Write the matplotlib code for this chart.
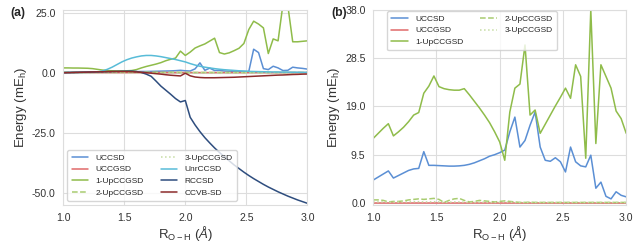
import numpy as np
import matplotlib
matplotlib.use('Agg')
import matplotlib.pyplot as plt
import seaborn as sns

sns.set_style('whitegrid')
plt.rcParams['font.family'] = ['Liberation Sans', 'DejaVu Sans']
plt.rcParams['mathtext.fontset'] = 'custom'
plt.rcParams['mathtext.rm'] = 'Liberation Sans'
plt.rcParams['mathtext.it'] = 'Liberation Sans:italic'

# bond length grid (Angstrom)
r = np.linspace(1.0, 3.0, 51)

# panel (a): energy relative to reference (mEh)
a_uccsd = [0.1, 0.1, 0.15, 0.15, 0.2, 0.2, 0.25, 0.25, 0.3, 0.3,
           0.35, 0.35, 0.4, 0.4, 0.45, 0.45, 0.5, 0.5, 0.55, 0.6,
           0.65, 0.7, 0.75, 0.85, 1.0, 0.8, 0.7, 1.6, 4.1, 1.0,
           1.9, 0.9, 1.0, 0.7, 0.6, 0.6, 0.5, 0.5, 0.5, 9.8,
           8.4, 1.7, 1.3, 2.7, 2.0, 0.9, 1.0, 2.3, 2.0, 1.8, 1.5]
a_uccgsd = [0.0, 0.0, 0.0, 0.05, 0.05, 0.05, 0.05, 0.05, 0.05, 0.05,
            0.05, 0.05, 0.05, 0.05, 0.05, 0.05, 0.05, 0.05, 0.05, 0.05,
            0.05, 0.05, 0.05, 0.05, 0.05, 0.05, 0.05, 0.05, 0.05, 0.05,
            0.05, 0.05, 0.05, 0.05, 0.05, 0.05, 0.05, 0.05, 0.05, 0.05,
            0.05, 0.05, 0.05, 0.05, 0.05, 0.05, 0.05, 0.05, 0.05, 0.05, 0.05]
a_up1 = [2.0, 2.0, 1.95, 1.95, 1.9, 1.85, 1.7, 1.4, 1.1, 0.9,
         0.8, 0.75, 0.75, 0.8, 0.9, 1.3, 2.0, 2.6, 3.1, 3.6,
         4.2, 5.0, 5.6, 6.1, 9.0, 7.2, 8.6, 10.3, 11.2, 12.0,
         13.2, 14.4, 8.4, 7.8, 8.3, 9.2, 10.2, 12.2, 18.0, 21.5,
         20.3, 18.7, 8.0, 14.1, 13.3, 28.5, 28.0, 12.9, 12.9, 13.1, 13.3]
a_up2 = [0.2, 0.2, 0.15, 0.1, 0.1, 0.15, 0.2, 0.25, 0.3, 0.3,
         0.3, 0.3, 0.25, 0.2, 0.2, 0.2, 0.25, 0.25, 0.2, 0.2,
         0.15, 0.15, 0.2, 0.2, 0.15, 0.1, 0.1, 0.1, 0.1, 0.1,
         0.1, 0.1, 0.1, 0.1, 0.1, 0.1, 0.1, 0.1, 0.1, 0.1,
         0.1, 0.1, 0.1, 0.1, 0.1, 0.1, 0.1, 0.1, 0.1, 0.1, 0.1]
a_up3 = [0.05, 0.05, 0.05, 0.05, 0.05, 0.05, 0.05, 0.05, 0.05, 0.05,
         0.05, 0.05, 0.05, 0.05, 0.05, 0.05, 0.05, 0.05, 0.05, 0.05,
         0.05, 0.05, 0.05, 0.05, 0.05, 0.05, 0.05, 0.05, 0.05, 0.05,
         0.05, 0.05, 0.05, 0.05, 0.05, 0.05, 0.05, 0.05, 0.05, 0.05,
         0.05, 0.05, 0.05, 0.05, 0.05, 0.05, 0.05, 0.05, 0.05, 0.05, 0.05]
a_unr = [0.1, 0.1, 0.1, 0.1, 0.1, 0.15, 0.15, 0.3, 0.7, 1.4,
         2.3, 3.4, 4.5, 5.4, 6.1, 6.6, 7.0, 7.2, 7.2, 7.0,
         6.7, 6.3, 5.9, 5.5, 5.0, 4.5, 3.8, 3.2, 2.7, 2.3,
         2.0, 1.7, 1.45, 1.25, 1.1, 0.95, 0.8, 0.7, 0.55, 0.5,
         0.45, 0.4, 0.35, 0.3, 0.3, 0.25, 0.25, 0.2, 0.2, 0.15, 0.15]
a_rccsd = [0.0, 0.05, 0.1, 0.15, 0.2, 0.25, 0.3, 0.35, 0.4, 0.45,
           0.5, 0.55, 0.6, 0.65, 0.7, 0.5, 0.1, -0.6, -1.5, -3.5,
           -5.6, -7.3, -9.0, -10.8, -12.2, -11.6, -18.6, -21.8, -24.6, -27.1,
           -29.3, -31.4, -33.3, -35.1, -36.8, -38.5, -40.0, -41.5, -42.9, -44.2,
           -45.4, -46.6, -47.7, -48.7, -49.7, -50.6, -51.5, -52.3, -53.1, -53.8, -54.5]
a_ccvb = [0.0, 0.05, 0.1, 0.15, 0.2, 0.25, 0.3, 0.35, 0.4, 0.45,
          0.5, 0.5, 0.5, 0.45, 0.4, 0.3, 0.15, 0.0, -0.2, -0.4,
          -0.6, -0.85, -1.05, -1.2, -1.35, -0.2, -1.3, -1.8, -2.0, -2.1,
          -2.1, -2.1, -2.05, -2.0, -1.95, -1.9, -1.8, -1.7, -1.6, -1.5,
          -1.4, -1.3, -1.2, -1.1, -1.0, -0.95, -0.85, -0.75, -0.7, -0.6, -0.55]

# panel (b)
b_uccsd = [4.5, 5.1, 5.7, 6.3, 4.9, 5.4, 5.9, 6.4, 6.7, 6.8,
           10.1, 7.4, 7.4, 7.35, 7.3, 7.25, 7.25, 7.3, 7.4, 7.6,
           7.9, 8.3, 8.7, 9.2, 9.5, 9.9, 10.4, 14.0, 16.9, 11.0,
           12.3, 15.3, 17.9, 11.0, 8.4, 8.2, 8.9, 8.1, 6.1, 11.0,
           8.1, 7.3, 7.1, 9.4, 2.9, 4.1, 1.3, 0.8, 2.2, 1.5, 1.2]
b_uccgsd = [0.05, 0.05, 0.05, 0.05, 0.05, 0.05, 0.05, 0.05, 0.05, 0.05,
            0.05, 0.05, 0.05, 0.05, 0.05, 0.05, 0.05, 0.05, 0.05, 0.05,
            0.05, 0.05, 0.05, 0.05, 0.05, 0.05, 0.05, 0.05, 0.05, 0.05,
            0.05, 0.05, 0.05, 0.05, 0.05, 0.05, 0.05, 0.05, 0.05, 0.05,
            0.05, 0.05, 0.05, 0.05, 0.05, 0.05, 0.05, 0.05, 0.05, 0.05, 0.05]
b_up1 = [12.7, 13.7, 14.7, 15.6, 13.2, 14.0, 14.9, 16.0, 17.3, 17.8,
         21.6, 23.0, 25.0, 22.9, 22.5, 22.3, 22.2, 22.2, 22.5, 21.3,
         20.0, 18.7, 17.3, 15.8, 14.0, 12.0, 8.4, 17.9, 22.6, 23.4,
         31.1, 17.3, 18.3, 13.7, 15.5, 17.3, 19.1, 20.8, 22.6, 20.6,
         27.2, 24.9, 8.8, 38.0, 11.7, 27.2, 24.9, 22.6, 18.1, 16.6, 13.7]
b_up2 = [0.6, 0.6, 0.5, 0.2, 0.3, 0.3, 0.4, 0.6, 0.7, 0.8,
         0.7, 0.8, 0.9, 0.7, 0.1, 0.5, 0.8, 0.9, 0.5, 0.2,
         0.3, 0.5, 0.4, 0.3, 0.2, 0.3, 0.4, 0.3, 0.2, 0.1,
         0.1, 0.15, 0.1, 0.1, 0.1, 0.1, 0.1, 0.1, 0.1, 0.1,
         0.1, 0.1, 0.1, 0.1, 0.1, 0.1, 0.1, 0.1, 0.1, 0.1, 0.1]
b_up3 = [0.2, 0.2, 0.2, 0.15, 0.15, 0.15, 0.2, 0.2, 0.25, 0.25,
         0.2, 0.2, 0.25, 0.2, 0.1, 0.15, 0.2, 0.2, 0.15, 0.1,
         0.1, 0.15, 0.15, 0.1, 0.1, 0.15, 0.2, 0.15, 0.1, 0.1,
         0.1, 0.1, 0.1, 0.1, 0.1, 0.1, 0.1, 0.1, 0.1, 0.1,
         0.1, 0.1, 0.1, 0.1, 0.1, 0.1, 0.1, 0.1, 0.1, 0.1, 0.1]

c_uccsd = '#5b8fd4'
c_uccgsd = '#e06a6a'
c_up1 = '#8fbc4a'
c_up2 = '#a8cc70'
c_up3 = '#c6dca4'
c_unr = '#58bcd8'
c_rcc = '#2e4d7e'
c_ccvb = '#8c2b2b'

fig = plt.figure(figsize=(6.39, 2.42), dpi=100)
ax1 = fig.add_axes([0.099, 0.153, 0.382, 0.806])
ax2 = fig.add_axes([0.584, 0.153, 0.396, 0.806])

lw = 1.1
ax1.plot(r, a_uccsd, color=c_uccsd, lw=lw, label='UCCSD')
ax1.plot(r, a_uccgsd, color=c_uccgsd, lw=lw, label='UCCGSD')
ax1.plot(r, a_up1, color=c_up1, lw=lw, label='1-UpCCGSD')
ax1.plot(r, a_up2, color=c_up2, lw=lw, ls='--', label='2-UpCCGSD')
ax1.plot(r, a_up3, color=c_up3, lw=lw, ls=':', label='3-UpCCGSD')
ax1.plot(r, a_unr, color=c_unr, lw=lw, label='UnrCCSD')
ax1.plot(r, a_rccsd, color=c_rcc, lw=lw, label='RCCSD')
ax1.plot(r, a_ccvb, color=c_ccvb, lw=lw, label='CCVB-SD')

ax2.plot(r, b_uccsd, color=c_uccsd, lw=lw, label='UCCSD')
ax2.plot(r, b_uccgsd, color=c_uccgsd, lw=lw, label='UCCGSD')
ax2.plot(r, b_up1, color=c_up1, lw=lw, label='1-UpCCGSD')
ax2.plot(r, b_up2, color=c_up2, lw=lw, ls='--', label='2-UpCCGSD')
ax2.plot(r, b_up3, color=c_up3, lw=lw, ls=':', label='3-UpCCGSD')

ax1.set_xlim(1.0, 3.0)
ax1.set_ylim(-55.2, 26.2)
ax1.set_yticks([-50, -25, 0, 25])
ax2.set_xlim(1.0, 3.0)
ax2.set_ylim(-0.4, 38.0)
ax2.set_yticks([0, 9.5, 19, 28.5, 38])

for ax in (ax1, ax2):
    ax.set_xticks([1.0, 1.5, 2.0, 2.5, 3.0])
    ax.xaxis.set_major_formatter(matplotlib.ticker.FormatStrFormatter('%.1f'))
    ax.yaxis.set_major_formatter(matplotlib.ticker.FormatStrFormatter('%.1f'))
    ax.tick_params(labelsize=7.6, pad=2, colors='#333333')
    ax.set_xlabel(r'R$_{\mathrm{O-H}}$ ($\mathit{\AA}$)', fontsize=9.5,
                  labelpad=1, color='#333333')
    ax.set_ylabel(r'Energy (mE$_{\mathrm{h}}$)', fontsize=9.5,
                  labelpad=2, color='#333333')
    ax.grid(color='#dddddd', lw=0.8)
    for s in ax.spines.values():
        s.set_color('#dddddd')

leg_kw = dict(ncol=2, fontsize=6.0, frameon=True, handlelength=2.0,
              columnspacing=2.0, labelspacing=0.45, borderpad=0.5,
              handletextpad=0.9)
ax1.legend(loc='lower left', **leg_kw)
ax2.legend(loc='upper left', bbox_to_anchor=(0.055, 0.995),
           borderaxespad=0, **leg_kw)

fig.text(0.016, 0.945, '(a)', fontsize=8.8, fontweight='bold', va='center')
fig.text(0.519, 0.945, '(b)', fontsize=8.8, fontweight='bold', va='center')

fig.savefig('out.png', dpi=100)
